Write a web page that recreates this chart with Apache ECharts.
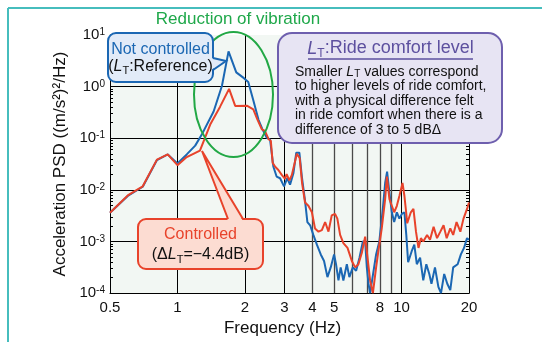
<!DOCTYPE html>
<html>
<head>
<meta charset="utf-8">
<script src="https://cdn.jsdelivr.net/npm/echarts@6/dist/echarts.min.js"></script>
<style>
  html, body { margin: 0; padding: 0; background: #fff; }
  #chart { width: 542px; height: 342px; }
</style>
</head>
<body>
<div id="chart"></div>
<script>
// Vibration PSD of the car body, without and with control (Hz, (m/s^2)^2/Hz)
const freqNotControlled = [0.50,0.60,0.70,0.81,0.905,1.00,1.10,1.20,1.28,1.45,1.58,1.69,1.83,1.98,2.07,2.18,2.30,2.39,2.50,2.59,2.68,2.77,2.87,2.99,3.09,3.18,3.29,3.39,3.50,3.59,3.71,3.80,3.91,4.04,4.19,4.36,4.51,4.67,4.83,5.00,5.10,5.23,5.35,5.50,5.70,5.85,6.06,6.27,6.49,6.72,6.88,7.00,7.12,7.24,7.70,7.96,8.25,8.45,8.62,8.83,9.05,9.27,9.53,9.78,10.06,10.3,10.5,10.7,11.1,11.4,11.7,12.1,12.5,12.9,13.3,13.6,14.1,14.6,15.0,15.5,16.0,16.5,17.0,17.8,18.4,19.0,19.6,20.0];
const psdNotControlled = [0.0036,0.0076,0.0115,0.0378,0.0486,0.0323,0.0486,0.0719,0.115,0.329,1.04,4.82,1.89,1.46,1.23,0.544,0.228,0.152,0.103,0.0945,0.0280,0.0181,0.0168,0.0117,0.0168,0.0126,0.0207,0.0526,0.0526,0.0181,0.0061,0.00238,0.00206,0.00134,0.000866,0.000561,0.000420,0.000204,0.000315,0.000561,0.000363,0.000176,0.000315,0.000176,0.000363,0.000204,0.000315,0.000272,0.000486,0.00100,0.00100,0.000315,0.000152,0.0001,0.000561,0.00100,0.00427,0.0136,0.0225,0.00878,0.00368,0.00238,0.00368,0.00277,0.00348,0.00368,0.00134,0.000396,0.000648,0.000866,0.000363,0.000486,0.000176,0.000363,0.000235,0.000152,0.000315,0.000132,0.0001,0.000235,0.000152,0.000114,0.000315,0.000363,0.000561,0.000750,0.00116,0.00108];

const freqControlled = [0.50,0.60,0.70,0.81,0.905,1.00,1.10,1.26,1.40,1.55,1.70,1.81,2.04,2.18,2.27,2.38,2.46,2.55,2.61,2.66,2.73,2.82,2.92,3.02,3.07,3.16,3.24,3.41,3.51,3.60,3.71,3.84,3.98,4.11,4.26,4.41,4.56,4.72,4.88,5.05,5.17,5.32,5.50,5.74,6.00,6.21,6.42,6.65,6.88,7.05,7.24,7.45,7.70,7.88,8.16,8.45,8.60,8.83,9.05,9.27,9.53,9.78,10.1,10.3,10.5,10.6,11.0,11.3,11.6,11.9,12.2,12.5,13.0,13.4,13.9,14.4,14.9,15.4,15.9,16.5,17.0,17.6,18.3,18.9,19.6,20.0];
const psdControlled = [0.0036,0.0078,0.0117,0.0385,0.0486,0.0301,0.0432,0.0578,0.184,0.409,0.905,0.423,0.427,0.363,0.235,0.148,0.138,0.0958,0.0893,0.0333,0.0280,0.0243,0.0195,0.0163,0.0202,0.0152,0.0195,0.0499,0.0414,0.0134,0.00569,0.00492,0.00368,0.00179,0.00155,0.00166,0.00238,0.00155,0.00319,0.00343,0.00277,0.00134,0.000933,0.000750,0.000420,0.000315,0.000363,0.000604,0.00124,0.000486,0.000176,0.0001,0.000315,0.000648,0.00179,0.00659,0.0181,0.00659,0.00492,0.00368,0.00492,0.00760,0.0136,0.00760,0.00348,0.00225,0.00368,0.00427,0.00155,0.000750,0.00116,0.00100,0.00134,0.00108,0.00192,0.00116,0.00155,0.00206,0.00116,0.00179,0.00134,0.00238,0.00155,0.00277,0.00427,0.00569];

// Axis ticks and grid lines
const freqTickLabels = [0.5, 1, 2, 3, 4, 5, 8, 10, 20];
const freqMajorGrid = [1, 2, 3, 10];
const freqMinorGrid = [4, 5, 6, 7, 8, 9];
const psdDecades = [1e-4, 1e-3, 1e-2, 1e-1, 1, 10];
const psdMin = 1e-4;
const psdMax = 10;

// small inside ticks at 2..9 within every decade of the PSD axis
const psdMinorTicks = [];
psdDecades.slice(0, -1).forEach(d => {
  for (let k = 2; k <= 9; k++) psdMinorTicks.push(+(k * d).toPrecision(3));
});

const FONT = '"Liberation Sans", Arial, Helvetica, sans-serif';
const BLUE = '#1b67b3';
const RED = '#e8432b';
const PURPLE = '#5d509f';

const zip = (xs, ys) => xs.map((x, i) => [x, ys[i]]);

const supLabel = v => '10{s|' + Math.round(Math.log10(v)) + '}';

const chart = echarts.init(document.getElementById('chart'), null, { renderer: 'canvas' });

const psdAxisBase = { type: 'log', logBase: 10, min: psdMin, max: psdMax };

chart.setOption({
  animation: false,
  backgroundColor: '#ffffff',
  grid: {
    left: 110, right: 73, top: 35, bottom: 42,
    show: true, backgroundColor: '#f2f7f3', borderWidth: 0
  },
  xAxis: [{
    type: 'log', logBase: 10, min: 0.5, max: 20, position: 'bottom',
    axisLine: { show: true, lineStyle: { color: '#000', width: 1 } },
    axisTick: { show: false, customValues: freqMajorGrid },
    axisLabel: {
      customValues: freqTickLabels, formatter: v => String(v),
      fontSize: 15, fontFamily: FONT, color: '#111', margin: 7
    },
    splitLine: { show: true, lineStyle: { color: '#000', width: 1 } },
    name: 'Frequency (Hz)', nameLocation: 'middle', nameGap: 23,
    nameTextStyle: { fontSize: 17, fontFamily: FONT, color: '#111', padding: [0, 14, 0, 0] }
  }, {
    type: 'log', logBase: 10, min: 0.5, max: 20, position: 'bottom',
    axisLine: { show: false },
    axisTick: { show: false, customValues: freqMinorGrid },
    axisLabel: { show: false },
    splitLine: { show: true, lineStyle: { color: '#4a4a4a', width: 1.3 } }
  }],
  yAxis: [Object.assign({}, psdAxisBase, {
    position: 'left',
    axisLine: { show: true, lineStyle: { color: '#000', width: 1 } },
    axisTick: { show: true, inside: true, length: 3, customValues: psdMinorTicks, lineStyle: { color: '#000', width: 1 } },
    splitLine: { show: false },
    axisLabel: {
      customValues: psdDecades,
      formatter: supLabel, fontSize: 15, fontFamily: FONT, color: '#111', margin: 5,
      rich: { s: { fontSize: 10, fontFamily: FONT, color: '#111', verticalAlign: 'top', lineHeight: 10 } }
    },
    name: 'Acceleration PSD ((m/s²)²/Hz)', nameLocation: 'middle', nameGap: 29,
    nameTextStyle: { fontSize: 17, fontFamily: FONT, color: '#111' }
  }), Object.assign({}, psdAxisBase, {
    position: 'right',
    axisLine: { show: true, lineStyle: { color: '#000', width: 1 } },
    axisTick: { show: true, inside: true, length: 3, customValues: psdMinorTicks, lineStyle: { color: '#000', width: 1 } },
    splitLine: { show: false },
    axisLabel: { show: false }
  }), Object.assign({}, psdAxisBase, {
    position: 'left',
    axisLine: { show: false },
    axisTick: { show: false, customValues: psdDecades },
    axisLabel: { show: false },
    splitLine: { show: true, showMaxLine: false, lineStyle: { color: '#000', width: 1 } }
  })],
  series: [{
    name: 'Not controlled', type: 'line', xAxisIndex: 0, yAxisIndex: 0,
    data: zip(freqNotControlled, psdNotControlled),
    showSymbol: false, symbol: 'none',
    lineStyle: { color: BLUE, width: 2 }, z: 3
  }, {
    name: 'Controlled', type: 'line', xAxisIndex: 0, yAxisIndex: 0,
    data: zip(freqControlled, psdControlled),
    showSymbol: false, symbol: 'none',
    lineStyle: { color: RED, width: 2 }, z: 4
  }],
  graphic: [
    // outer frame (top and left edges)
    { type: 'line', silent: true, z: 1, shape: { x1: 8, y1: 8, x2: 542, y2: 8 },
      style: { stroke: '#46bdbd', lineWidth: 2 } },
    { type: 'line', silent: true, z: 1, shape: { x1: 8, y1: 8, x2: 8, y2: 342 },
      style: { stroke: '#46bdbd', lineWidth: 2 } },
    // headline
    { type: 'text', silent: true, z: 100,
      style: { x: 238, y: 19, text: 'Reduction of vibration', fill: '#1fa84a',
               fontSize: 17, fontFamily: FONT, align: 'center', verticalAlign: 'middle' } },
    // highlight around the resonance peak
    { type: 'ellipse', silent: true, z: 50, shape: { cx: 233.5, cy: 94.5, rx: 39.5, ry: 62.5 },
      style: { fill: 'none', stroke: '#22a845', lineWidth: 2 } },

    // "Not controlled" callout
    { type: 'rect', silent: true, z: 100, shape: { x: 108, y: 33, width: 105, height: 49, r: 8 },
      style: { fill: '#e2ebf8', stroke: BLUE, lineWidth: 2 } },
    { type: 'polygon', silent: true, z: 101, shape: { points: [[211, 58], [226, 61], [211, 70]] },
      style: { fill: '#e2ebf8' } },
    { type: 'polyline', silent: true, z: 102, shape: { points: [[213, 58], [226, 61], [213, 70]] },
      style: { fill: 'none', stroke: BLUE, lineWidth: 2 } },
    { type: 'text', silent: true, z: 103,
      style: { x: 160.5, y: 49.5, text: 'Not controlled', fill: BLUE,
               fontSize: 16, fontFamily: FONT, align: 'center', verticalAlign: 'middle' } },
    { type: 'text', silent: true, z: 103,
      style: { x: 160.5, y: 66.5, text: '({i|L}{t|T}:Reference)', fill: '#111',
               fontSize: 16, fontFamily: FONT, align: 'center', verticalAlign: 'middle', lineHeight: 20,
               rich: {
                 i: { fontSize: 16, fontFamily: FONT, fontStyle: 'italic', fill: '#111', lineHeight: 20 },
                 t: { fontSize: 11, fontFamily: FONT, fill: '#111', lineHeight: 9, verticalAlign: 'bottom' }
               } } },

    // "Controlled" callout
    { type: 'rect', silent: true, z: 100, shape: { x: 138, y: 219, width: 125, height: 50, r: 8 },
      style: { fill: '#fcdcd2', stroke: RED, lineWidth: 2 } },
    { type: 'polygon', silent: true, z: 101, shape: { points: [[228, 221], [202, 151], [243, 221]] },
      style: { fill: '#fcdcd2' } },
    { type: 'polyline', silent: true, z: 102, shape: { points: [[228, 219], [202, 151], [243, 219]] },
      style: { fill: 'none', stroke: RED, lineWidth: 2 } },
    { type: 'text', silent: true, z: 103,
      style: { x: 200.5, y: 234.5, text: 'Controlled', fill: RED,
               fontSize: 16, fontFamily: FONT, align: 'center', verticalAlign: 'middle' } },
    { type: 'text', silent: true, z: 103,
      style: { x: 200.5, y: 255, text: '(Δ{i|L}{t|T}=−4.4dB)', fill: '#111',
               fontSize: 16, fontFamily: FONT, align: 'center', verticalAlign: 'middle', lineHeight: 20,
               rich: {
                 i: { fontSize: 16, fontFamily: FONT, fontStyle: 'italic', fill: '#111', lineHeight: 20 },
                 t: { fontSize: 11, fontFamily: FONT, fill: '#111', lineHeight: 9, verticalAlign: 'bottom' }
               } } },

    // ride comfort level note
    { type: 'rect', silent: true, z: 100, shape: { x: 278, y: 33, width: 224, height: 110, r: 14 },
      style: { fill: '#e7e4f3', stroke: '#6e5fae', lineWidth: 2 } },
    { type: 'text', silent: true, z: 103,
      style: { x: 390.5, y: 48.5, text: '{i|L}{t|T}:Ride comfort level', fill: PURPLE,
               fontSize: 18, fontFamily: FONT, align: 'center', verticalAlign: 'middle', lineHeight: 22,
               rich: {
                 i: { fontSize: 18, fontFamily: FONT, fontStyle: 'italic', fill: PURPLE, lineHeight: 22 },
                 t: { fontSize: 12, fontFamily: FONT, fill: PURPLE, lineHeight: 10, verticalAlign: 'bottom' }
               } } },
    { type: 'line', silent: true, z: 103, shape: { x1: 308, y1: 59, x2: 473, y2: 59 },
      style: { stroke: PURPLE, lineWidth: 1.5 } },
    { type: 'text', silent: true, z: 103,
      style: { x: 295, y: 64.5,
               text: 'Smaller {i|L}{t|T} values correspond\nto higher levels of ride comfort,\nwith a physical difference felt\nin ride comfort when there is a\ndifference of 3 to 5 dBΔ',
               fill: '#111', fontSize: 14, fontFamily: FONT, align: 'left', verticalAlign: 'top', lineHeight: 14.6,
               rich: {
                 i: { fontSize: 14, fontFamily: FONT, fontStyle: 'italic', fill: '#111', lineHeight: 14.6 },
                 t: { fontSize: 10, fontFamily: FONT, fill: '#111', lineHeight: 8, verticalAlign: 'bottom' }
               } } }
  ]
});
</script>
</body>
</html>
